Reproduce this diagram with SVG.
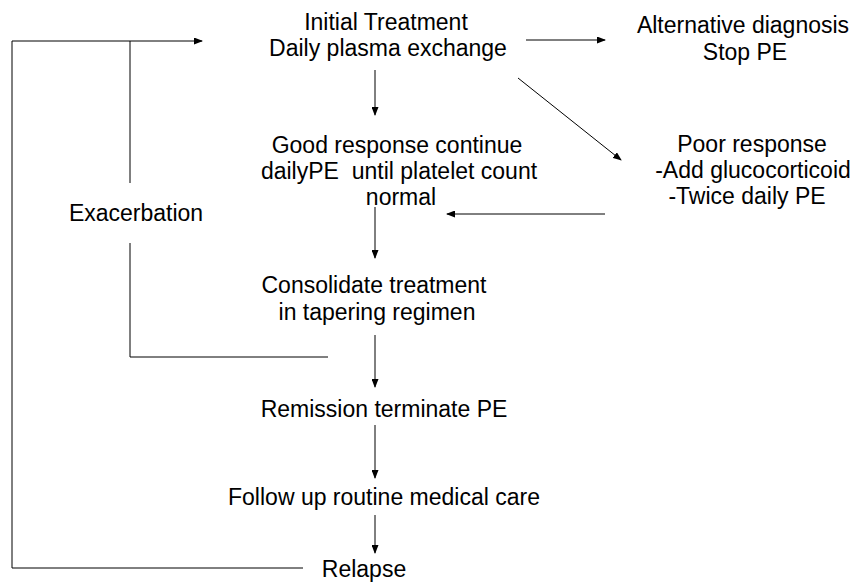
<svg xmlns="http://www.w3.org/2000/svg" width="858" height="582" viewBox="0 0 858 582">
<style>
text{font-family:"Liberation Sans",Arial,sans-serif;font-size:23px;fill:#000;text-anchor:middle}
.c{fill:none;stroke:#000;stroke-width:1}
</style>
<defs>
<marker id="ah" markerWidth="9" markerHeight="7" refX="8" refY="3.5" orient="auto" markerUnits="userSpaceOnUse">
<path d="M0,0 L9,3.5 L0,7 z" fill="#000"/>
</marker>
</defs>
<rect width="858" height="582" fill="#fff"/>
<g id="n-initial"><text x="386" y="30">Initial Treatment</text><text x="388" y="56">Daily plasma exchange</text></g>
<g id="n-alternative"><text x="743" y="33">Alternative diagnosis</text><text x="745" y="60">Stop PE</text></g>
<g id="n-good"><text x="397" y="153">Good response continue</text><text x="399" y="179" xml:space="preserve">dailyPE  until platelet count</text><text x="401" y="205">normal</text></g>
<g id="n-poor"><text x="752" y="152">Poor response</text><text x="753" y="178">-Add glucocorticoid</text><text x="747" y="204">-Twice daily PE</text></g>
<g id="n-exacerbation"><text x="136" y="221">Exacerbation</text></g>
<g id="n-consolidate"><text x="374" y="293">Consolidate treatment</text><text x="377" y="320">in tapering regimen</text></g>
<g id="n-remission"><text x="384" y="417">Remission terminate PE</text></g>
<g id="n-followup"><text x="384" y="505">Follow up routine medical care</text></g>
<g id="n-relapse"><text x="364" y="577">Relapse</text></g>
<g id="connectors">
<line class="c" x1="375" y1="70" x2="375" y2="115" marker-end="url(#ah)"/>
<line class="c" x1="526" y1="40" x2="605" y2="40" marker-end="url(#ah)"/>
<line class="c" x1="518" y1="78" x2="621" y2="160" marker-end="url(#ah)"/>
<line class="c" x1="605" y1="214" x2="447" y2="214" marker-end="url(#ah)"/>
<line class="c" x1="375" y1="207" x2="375" y2="258" marker-end="url(#ah)"/>
<line class="c" x1="375" y1="335" x2="375" y2="387" marker-end="url(#ah)"/>
<line class="c" x1="375" y1="425" x2="375" y2="478" marker-end="url(#ah)"/>
<line class="c" x1="375" y1="515" x2="375" y2="553" marker-end="url(#ah)"/>
<polyline class="c" points="328,357 130,357 130,243"/>
<line class="c" x1="130" y1="183" x2="130" y2="41"/>
<polyline class="c" points="303,568 12,568 12,41 202,41" marker-end="url(#ah)"/>
</g>
</svg>
